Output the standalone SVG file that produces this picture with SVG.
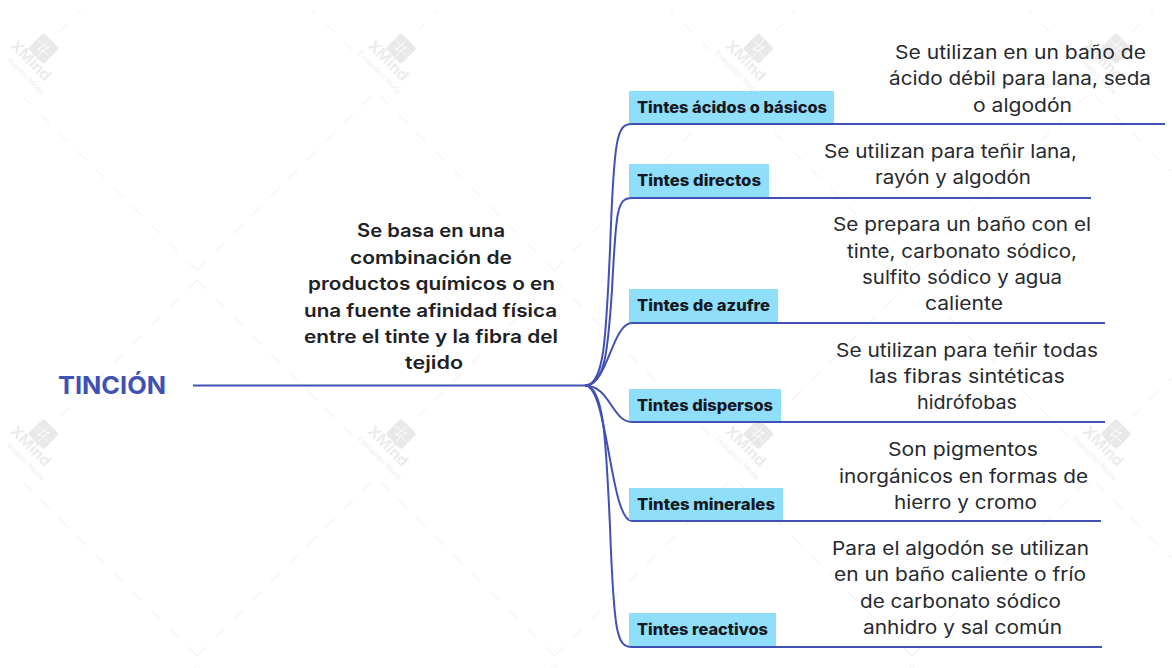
<svg xmlns="http://www.w3.org/2000/svg" width="1172" height="668" viewBox="0 0 1172 668">
<style>
text{font-family:"Inter","Liberation Sans",sans-serif}
.wl{fill:none;stroke:#eeeeee;stroke-width:1;stroke-dasharray:13 13}
.wx{font-size:15px;font-weight:600;fill:#ebebeb}
.we{font-size:7.5px;fill:#efefef}
.c{fill:none;stroke:#3f51b5;stroke-width:2}
.box{fill:#8fdffb}
.lab{font-size:15.5px;font-weight:800;fill:#16191f}
.mid{font-size:18px;font-weight:600;fill:#1e2126}
.txt{font-size:18.5px;font-weight:400;fill:#26292e}
.root{font-size:24.5px;font-weight:700;fill:#3f51b5}
</style>
<defs>
<clipPath id="wclip"><rect x="8" y="10" width="1164" height="658"/></clipPath>
<g id="wm">
<path class="wl" d="M197,280L60,417"/>
<path class="wl" d="M197,280L353,436"/>
<path class="wl" d="M197,656L372,481"/>
<path class="wl" d="M197,656L23,482"/>
<g transform="translate(43.5,434)">
<rect x="-11" y="-11" width="22" height="22" rx="2" transform="rotate(45)" fill="#e9e9e9"/>
<path d="M-5,-8Q1,-1 6,-1M5,-8Q-1,-1 -6,1M-5,8Q-1,1 6,-1M5,8Q1,1 -6,1" fill="none" stroke="#fff" stroke-width="0.9"/>
<text class="wx" transform="translate(-34,-2) rotate(45)" textLength="50" lengthAdjust="spacingAndGlyphs">XMind</text>
<text class="we" transform="translate(-44,5) rotate(45)" textLength="59" lengthAdjust="spacingAndGlyphs">Evaluation Mode</text>
</g>
</g>
</defs>
<rect width="1172" height="668" fill="#fff"/>
<g id="watermark" clip-path="url(#wclip)">
<use href="#wm" x="0" y="-385.5"/><use href="#wm" x="357.5" y="-385.5"/><use href="#wm" x="715" y="-385.5"/><use href="#wm" x="1072.5" y="-385.5"/>
<use href="#wm" x="0" y="0"/><use href="#wm" x="357.5" y="0"/><use href="#wm" x="715" y="0"/><use href="#wm" x="1072.5" y="0"/>
<path class="wl" d="M197,665L190,672M197,665L204,672M554.5,665L547.5,672M554.5,665L561.5,672M912,665L905,672M912,665L919,672"/>
</g>
<g id="connectors">
<path class="c" d="M193,385.5H585"/>
<path class="c" d="M585,385.5C604,385.5 606,340 610,250C614,135 617,124 632,124H1165"/>
<path class="c" d="M585,385.5C605,385.5 608,350 612,290C616,210 617,198 632,198H1091"/>
<path class="c" d="M585,385.5C608,385.5 612,323 632,323H1105"/>
<path class="c" d="M585,385.5C610,385.5 612,422 632,422H1105"/>
<path class="c" d="M585,385.5C608,385.5 610,521 632,521H1101"/>
<path class="c" d="M585,385.5C604,385.5 606,440 610,527C614,635 617,647 632,647H1102"/>
</g>
<g id="root"><text class="root" x="58" y="394" textLength="108" lengthAdjust="spacingAndGlyphs">TINCIÓN</text></g>
<g id="descripcion">
<text class="mid" x="357" y="237" textLength="148" lengthAdjust="spacingAndGlyphs">Se basa en una</text>
<text class="mid" x="350" y="264" textLength="162" lengthAdjust="spacingAndGlyphs">combinación de</text>
<text class="mid" x="308" y="290" textLength="247" lengthAdjust="spacingAndGlyphs">productos químicos o en</text>
<text class="mid" x="304" y="316.5" textLength="253" lengthAdjust="spacingAndGlyphs">una fuente afinidad física</text>
<text class="mid" x="304" y="343" textLength="254" lengthAdjust="spacingAndGlyphs">entre el tinte y la fibra del</text>
<text class="mid" x="405" y="369" textLength="58" lengthAdjust="spacingAndGlyphs">tejido</text>
</g>
<g id="n1"><rect class="box" x="629" y="91" width="205" height="32"/>
<text class="lab" x="637" y="112.5" textLength="190" lengthAdjust="spacingAndGlyphs">Tintes ácidos o básicos</text>
<text class="txt" x="895" y="59" textLength="251" lengthAdjust="spacingAndGlyphs">Se utilizan en un baño de</text>
<text class="txt" x="889" y="85" textLength="262" lengthAdjust="spacingAndGlyphs">ácido débil para lana, seda</text>
<text class="txt" x="973" y="112" textLength="99" lengthAdjust="spacingAndGlyphs">o algodón</text></g>
<g id="n2"><rect class="box" x="629" y="164" width="140" height="33"/>
<text class="lab" x="637" y="185.5" textLength="124" lengthAdjust="spacingAndGlyphs">Tintes directos</text>
<text class="txt" x="824" y="158" textLength="253" lengthAdjust="spacingAndGlyphs">Se utilizan para teñir lana,</text>
<text class="txt" x="875" y="184" textLength="156" lengthAdjust="spacingAndGlyphs">rayón y algodón</text></g>
<g id="n3"><rect class="box" x="629" y="289" width="149" height="33"/>
<text class="lab" x="637" y="310.5" textLength="133" lengthAdjust="spacingAndGlyphs">Tintes de azufre</text>
<text class="txt" x="833" y="231" textLength="258" lengthAdjust="spacingAndGlyphs">Se prepara un baño con el</text>
<text class="txt" x="847" y="258" textLength="230" lengthAdjust="spacingAndGlyphs">tinte, carbonato sódico,</text>
<text class="txt" x="862" y="284" textLength="200" lengthAdjust="spacingAndGlyphs">sulfito sódico y agua</text>
<text class="txt" x="925" y="310" textLength="78" lengthAdjust="spacingAndGlyphs">caliente</text></g>
<g id="n4"><rect class="box" x="629" y="389" width="152" height="32"/>
<text class="lab" x="637" y="410.5" textLength="136" lengthAdjust="spacingAndGlyphs">Tintes dispersos</text>
<text class="txt" x="836" y="357" textLength="262" lengthAdjust="spacingAndGlyphs">Se utilizan para teñir todas</text>
<text class="txt" x="869" y="383" textLength="196" lengthAdjust="spacingAndGlyphs">las fibras sintéticas</text>
<text class="txt" x="917" y="409" textLength="100" lengthAdjust="spacingAndGlyphs">hidrófobas</text></g>
<g id="n5"><rect class="box" x="629" y="488" width="154" height="32"/>
<text class="lab" x="637" y="509.5" textLength="138" lengthAdjust="spacingAndGlyphs">Tintes minerales</text>
<text class="txt" x="888" y="456" textLength="150" lengthAdjust="spacingAndGlyphs">Son pigmentos</text>
<text class="txt" x="839" y="483" textLength="249" lengthAdjust="spacingAndGlyphs">inorgánicos en formas de</text>
<text class="txt" x="894" y="509" textLength="143" lengthAdjust="spacingAndGlyphs">hierro y cromo</text></g>
<g id="n6"><rect class="box" x="629" y="613" width="147" height="33"/>
<text class="lab" x="637" y="635" textLength="131" lengthAdjust="spacingAndGlyphs">Tintes reactivos</text>
<text class="txt" x="832" y="555" textLength="257" lengthAdjust="spacingAndGlyphs">Para el algodón se utilizan</text>
<text class="txt" x="834" y="581" textLength="252" lengthAdjust="spacingAndGlyphs">en un baño caliente o frío</text>
<text class="txt" x="860" y="608" textLength="201" lengthAdjust="spacingAndGlyphs">de carbonato sódico</text>
<text class="txt" x="863" y="634" textLength="199" lengthAdjust="spacingAndGlyphs">anhidro y sal común</text></g>
</svg>
